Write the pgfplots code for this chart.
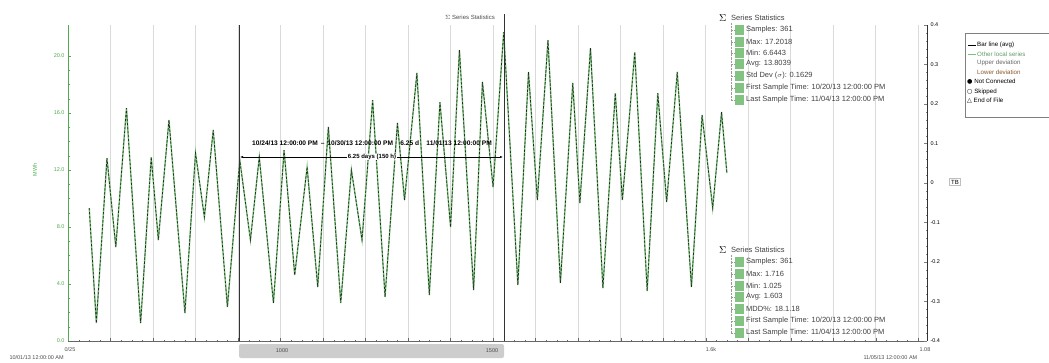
\documentclass[border=0pt]{standalone}
\usepackage{fontspec}
\setmainfont{Liberation Sans}
\newfontfamily\dejavu{DejaVu Sans}
\usepackage{pgfplots}
\usepackage{pgfplotstable}
\pgfplotsset{compat=1.18}
\usetikzlibrary{arrows.meta}
\definecolor{serg}{RGB}{120,195,120}
\definecolor{axg}{RGB}{80,170,80}
\definecolor{gridc}{RGB}{218,218,218}
\definecolor{boxg}{RGB}{130,195,130}
\definecolor{sbar}{RGB}{205,205,205}

\pgfplotstableread{
h v
12 9.33
16 1.26
22 12.84
27 6.60
33 16.35
41 1.26
47 12.91
51 7.09
57 15.51
66 1.96
72 13.19
77 8.70
82 14.81
90 2.39
97 12.70
103 7.09
108 12.91
116 2.67
122 13.40
128 4.63
135 12.21
141 3.79
147 15.02
154 2.67
160 12.00
166 7.09
172 16.91
179 3.09
186 15.30
190 9.89
197 18.81
204 3.23
210 16.77
216 8.00
221 20.42
229 3.58
234 18.18
240 10.81
246 21.68
254 3.93
260 18.88
265 9.89
271 21.12
278 4.07
285 18.11
289 9.68
295 20.56
302 3.72
309 17.40
313 9.89
320 20.28
327 3.51
333 17.40
338 9.75
344 18.88
352 3.79
358 15.86
364 9.33
369 16.07
372 11.79
}\series

\begin{document}
\begin{tikzpicture}
\useasboundingbox (0pt,0pt) rectangle (1049pt,362pt);
\begin{axis}[
  at={(68pt,21pt)}, anchor=south west, scale only axis,
  width=859pt, height=316pt,
  xmin=0, xmax=485, ymin=0, ymax=22.18,
  axis x line*=bottom, axis y line*=left,
  x axis line style={-, black!60},
  y axis line style={-, axg, line width=0.8pt},
  xtick={0,24,...,480}, xticklabels={},
  minor x tick num=3,
  xmajorgrids, major grid style={gridc, line width=0.6pt},
  ytick={0,4,8,12,16,20},
  yticklabels={0.0,4.0,8.0,12.0,16.0,20.0},
  minor y tick num=3,
  y tick style={axg}, x tick style={black!60},
  major tick length=3pt, minor tick length=1.5pt,
  yticklabel style={font=\fontsize{5.5}{5.5}\selectfont, text=axg},
  clip=false,
]
\addplot[serg, line width=1.4pt] table[x=h,y=v]{\series};
\addplot[black!85, dash pattern=on 2.4pt off 1.6pt, line width=0.7pt] table[x=h,y=v]{\series};
\end{axis}
\begin{axis}[
  at={(68pt,21pt)}, anchor=south west, scale only axis,
  width=859pt, height=316pt,
  xmin=0, xmax=1, ymin=-0.4, ymax=0.4,
  axis x line=none, axis y line*=right,
  y axis line style={-, black!80},
  ytick={-0.4,-0.3,-0.2,-0.1,0,0.1,0.2,0.3,0.4},
  yticklabels={-0.4,-0.3,-0.2,-0.1,0,0.1,0.2,0.3,0.4},
  minor y tick num=4,
  major tick length=3pt, minor tick length=1.5pt,
  yticklabel style={font=\fontsize{5.5}{5.5}\selectfont},
]
\addplot[draw=none] coordinates {(0,0)};
\end{axis}

% y label
\node[rotate=90, text=axg, font=\fontsize{5.5}{5.5}\selectfont] at (35pt,192pt) {MWh};
% right label
\node[draw=black!25, font=\fontsize{6}{6}\selectfont, inner sep=1.5pt] at (955pt,180pt) {TB};

% cursors
\draw[black!80, line width=0.8pt] (239pt,21pt) -- (239pt,337pt);
\draw[black!80, line width=0.8pt] (504pt,21pt) -- (504pt,348pt);
\node[font=\fontsize{6}{6}\selectfont, text=black!70] at (470pt,345pt) {$\Sigma$ Series Statistics};

% scrollbar
\fill[sbar, rounded corners=2pt] (239pt,4pt) rectangle (504pt,18pt);
\node[font=\fontsize{5.5}{5.5}\selectfont, text=black!70] at (282pt,11pt) {1000};
\node[font=\fontsize{5.5}{5.5}\selectfont, text=black!70] at (492pt,11pt) {1500};
\node[font=\fontsize{5.5}{5.5}\selectfont, text=black!70] at (70pt,12pt) {0/25};
\node[font=\fontsize{5.5}{5.5}\selectfont, text=black!70] at (711pt,12pt) {1.6k};
\node[font=\fontsize{5.5}{5.5}\selectfont, text=black!70] at (925pt,12pt) {1.08};
\node[font=\fontsize{5.5}{5.5}\selectfont, text=black!70, anchor=west] at (6pt,4pt) {10/01/13 12:00:00 AM};
\node[font=\fontsize{5.5}{5.5}\selectfont, text=black!70, anchor=west] at (860pt,4pt) {11/05/13 12:00:00 AM};

% measurement
\node[font=\fontsize{6.6}{6.6}\selectfont\bfseries, inner sep=0pt] at (372pt,219pt) {10/24/13 12:00:00 PM \,--\, 10/30/13 12:00:00 PM \;\; 6.25 d \;\; 11/01/13 12:00:00 PM};
\draw[black, line width=0.6pt, {Latex[length=3pt]}-{Latex[length=3pt]}] (240pt,205pt) -- (503pt,205pt);
\node[fill=white, font=\fontsize{6}{6}\selectfont\bfseries, inner sep=0.6pt] at (372pt,205pt) {6.25 days (150 h)};

% upper stats box
\node[font=\fontsize{10}{10}\selectfont, anchor=west, inner sep=0pt] at (719pt,344pt) {$\Sigma$};
\node[font=\fontsize{7.5}{7.5}\selectfont, anchor=west, inner sep=0pt, text=black!75] at (731pt,344pt) {Series Statistics};
\draw[black!40, densely dotted] (731pt,339pt) -- (731pt,262pt);
\foreach \yy/\tt in {332/{Samples: 361}, 320/{Max: 17.2018}, 309/{Min: 6.6443}, 298/{Avg: 13.8039}, 286/{Std Dev ($\sigma$): 0.1629}, 274/{First Sample Time: 10/20/13 12:00:00 PM}, 262/{Last Sample Time: 11/04/13 12:00:00 PM}}{
  \draw[black!40, densely dotted] (731pt,\yy pt) -- (735pt,\yy pt);
  \fill[boxg] (735pt,\yy pt-5pt) rectangle (744pt,\yy pt+5pt);
  \node[font=\fontsize{7.5}{7.5}\selectfont, anchor=west, inner sep=0pt, text=black!75] at (746pt,\yy pt) {\tt};
}
% lower stats box
\node[font=\fontsize{10}{10}\selectfont, anchor=west, inner sep=0pt] at (719pt,112pt) {$\Sigma$};
\node[font=\fontsize{7.5}{7.5}\selectfont, anchor=west, inner sep=0pt, text=black!75] at (731pt,112pt) {Series Statistics};
\draw[black!40, densely dotted] (731pt,107pt) -- (731pt,29pt);
\foreach \yy/\tt in {100/{Samples: 361}, 88/{Max: 1.716}, 76/{Min: 1.025}, 65/{Avg: 1.603}, 53/{MDD\%: 18.1.18}, 41/{First Sample Time: 10/20/13 12:00:00 PM}, 29/{Last Sample Time: 11/04/13 12:00:00 PM}}{
  \draw[black!40, densely dotted] (731pt,\yy pt) -- (735pt,\yy pt);
  \fill[boxg] (735pt,\yy pt-5pt) rectangle (744pt,\yy pt+5pt);
  \node[font=\fontsize{7.5}{7.5}\selectfont, anchor=west, inner sep=0pt, text=black!75] at (746pt,\yy pt) {\tt};
}

% legend
\draw[black!50, line width=0.6pt] (965pt,245pt) rectangle (1060pt,329pt);
\draw[black, line width=0.8pt] (968pt,317pt) -- (976pt,317pt);
\node[font=\fontsize{6.2}{6.2}\selectfont, anchor=west, inner sep=0pt] at (977pt,317pt) {Bar line (avg)};
\draw[serg, line width=0.8pt] (968pt,308pt) -- (976pt,308pt);
\node[font=\fontsize{6.2}{6.2}\selectfont, anchor=west, inner sep=0pt, text=serg!80!black] at (977pt,308pt) {Other local series};
\node[font=\fontsize{6.2}{6.2}\selectfont, anchor=west, inner sep=0pt, text=black!60] at (977pt,299pt) {Upper deviation};
\node[font=\fontsize{6.2}{6.2}\selectfont, anchor=west, inner sep=0pt, text=brown!70!black] at (977pt,290pt) {Lower deviation};
\node[font=\fontsize{6.2}{6.2}\selectfont, anchor=west, inner sep=0pt] at (967pt,280pt) {{\dejavu ●} Not Connected};
\node[font=\fontsize{6.2}{6.2}\selectfont, anchor=west, inner sep=0pt] at (967pt,270pt) {{\dejavu ○} Skipped};
\node[font=\fontsize{6.2}{6.2}\selectfont, anchor=west, inner sep=0pt] at (967pt,261pt) {{\dejavu △} End of File};
\end{tikzpicture}
\end{document}
